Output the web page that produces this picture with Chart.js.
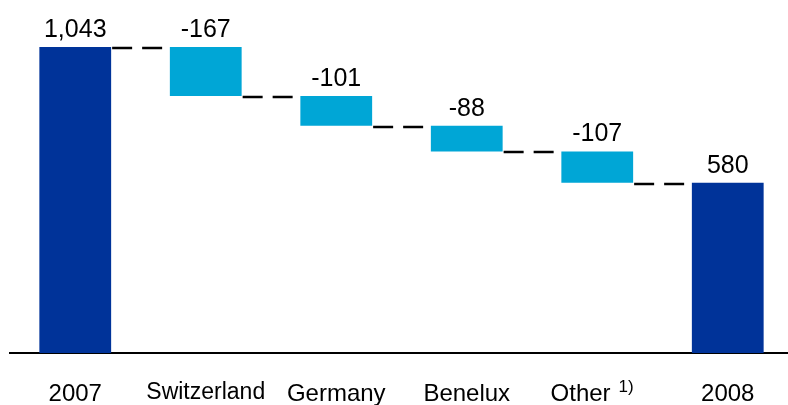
<!DOCTYPE html>
<html>
<head>
<meta charset="utf-8">
<script src="https://cdn.jsdelivr.net/npm/chart.js@4/dist/chart.umd.min.js"></script>
<style>
  html, body { margin: 0; padding: 0; background: #fff; overflow: hidden; }
  #wrap { width: 793px; height: 405px; }
</style>
</head>
<body>
<div id="wrap"><canvas id="c" width="793" height="405"></canvas></div>
<script>
// ---- data ----
const categories = ['2007', 'Switzerland', 'Germany', 'Benelux', 'Other', '2008'];
const values = [1043, -167, -101, -88, -107, 580];
const isTotal = [true, false, false, false, false, true];
const footnotes = ['', '', '', '', '1)', ''];

const darkBlue = '#003399';
const lightBlue = '#00A6D6';

// floating ranges built from the values
const ranges = [];
const levels = [];
let running = 0;
values.forEach((v, i) => {
  if (isTotal[i]) { ranges.push([0, v]); running = v; }
  else { const nxt = running + v; ranges.push([Math.min(running, nxt), Math.max(running, nxt)]); running = nxt; }
  levels.push(running);
});

const tickLabels = categories.map((c, i) => footnotes[i] ? c + '     ' : c);

const FONT = '"Liberation Sans", Arial, Helvetica, sans-serif';

const wfPlugin = {
  id: 'wf',
  afterDatasetsDraw(chart) {
    const ctx = chart.ctx;
    const meta = chart.getDatasetMeta(0);
    const y = chart.scales.y;
    // connectors
    ctx.save();
    ctx.strokeStyle = '#000';
    ctx.lineWidth = 2.5;
    ctx.setLineDash([20, 10]);
    for (let i = 0; i < meta.data.length - 1; i++) {
      const a = meta.data[i], b = meta.data[i + 1];
      const py = Math.round(y.getPixelForValue(levels[i])) + 1;
      const x1 = a.x + a.width / 2 + 1;
      const x2 = b.x - b.width / 2 - 1;
      ctx.beginPath();
      ctx.moveTo(x1, py);
      ctx.lineTo(x2, py);
      ctx.stroke();
    }
    ctx.restore();
    // value labels
    ctx.save();
    ctx.fillStyle = '#000';
    ctx.font = '25px ' + FONT;
    ctx.textAlign = 'center';
    ctx.textBaseline = 'alphabetic';
    meta.data.forEach((el, i) => {
      const top = Math.min(el.y, el.base);
      const v = values[i];
      const txt = (v < 0 ? '-' : '') + Math.abs(v).toLocaleString('en-US');
      ctx.fillText(txt, el.x, top - 10);
    });
    ctx.restore();
  },
  afterDraw(chart) {
    const ctx = chart.ctx;
    const xs = chart.scales.x;
    ctx.save();
    footnotes.forEach((f, i) => {
      if (!f) return;
      ctx.font = '24px ' + FONT;
      const full = ctx.measureText(tickLabels[i]).width;
      const base = ctx.measureText(categories[i]).width;
      const cx = xs.getPixelForTick(i);
      const sx = cx - full / 2 + base + 8;
      ctx.font = '17px ' + FONT;
      ctx.fillStyle = '#000';
      ctx.textAlign = 'left';
      ctx.textBaseline = 'alphabetic';
      ctx.fillText(f, sx, 392);
    });
    ctx.restore();
  }
};

new Chart(document.getElementById('c'), {
  type: 'bar',
  data: {
    labels: tickLabels,
    datasets: [{
      data: ranges,
      backgroundColor: isTotal.map(t => t ? darkBlue : lightBlue),
      borderWidth: 0,
      barPercentage: 0.55,
      categoryPercentage: 1.0
    }]
  },
  options: {
    responsive: false,
    devicePixelRatio: 1,
    animation: false,
    layout: { padding: { left: 10, right: 0, top: 1, bottom: 0 } },
    plugins: { legend: { display: false }, tooltip: { enabled: false } },
    scales: {
      x: {
        grid: { display: false, drawTicks: false },
        border: { display: true, color: '#000', width: 2 },
        afterFit(s) { s.height = 52; },
        ticks: {
          color: '#000',
          padding: 27,
          maxRotation: 0,
          autoSkip: false,
          font: (ctx) => ctx.index === 1
            ? { family: FONT, size: 23, lineHeight: 1.08 }
            : { family: FONT, size: 24, lineHeight: 1.2 }
        }
      },
      y: {
        display: false,
        min: 0,
        max: 1200
      }
    }
  },
  plugins: [wfPlugin]
});
</script>
</body>
</html>
